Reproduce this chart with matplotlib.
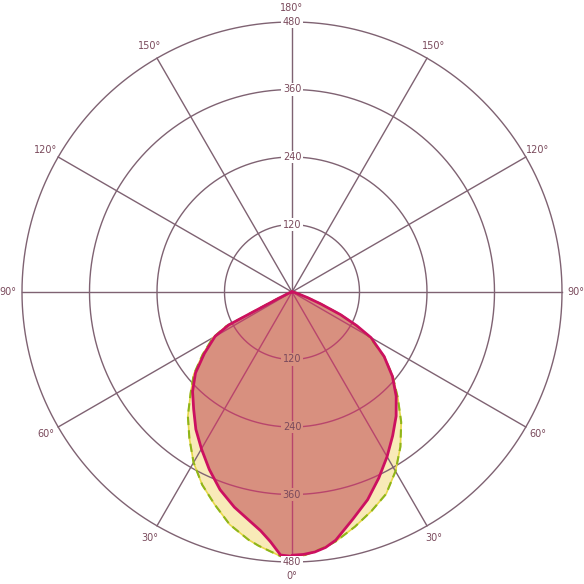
import numpy as np
import matplotlib
matplotlib.use('Agg')
import matplotlib.pyplot as plt

# Gamma angles (deg) and luminous intensity (cd/klm) for two C-planes
gamma = [0, 2.5, 5, 7.5, 10, 15, 20, 25, 30, 35, 40, 45, 50, 55, 60, 62.5, 65, 67.5, 70, 75, 80, 85, 90]
c180 = [470, 468, 445, 428, 416, 396, 374, 348, 322, 298, 272, 250, 224, 190, 158, 127, 25, 10, 6, 4, 2, 1, 0]
c0 = [468, 467, 464, 458, 448, 418, 393, 365, 338, 312, 288, 262, 233, 200, 162, 130, 95, 55, 30, 10, 5, 2, 0]
c270 = [471, 470, 462, 455, 447, 428, 402, 378, 350, 318, 288, 255, 228, 194, 162, 132, 30, 12, 7, 4, 2, 1, 0]
c90 = [470, 469, 463, 457, 450, 432, 414, 396, 368, 336, 302, 266, 234, 200, 158, 128, 95, 55, 30, 10, 5, 2, 0]

r_ticks = [120, 240, 360, 480]
ang_ticks = [0, 30, 60, 90, 120, 150, 180, 210, 240, 270, 300, 330]
ang_labels = ['0°', '30°', '60°', '90°', '120°', '150°', '180°', '150°', '120°', '90°', '60°', '30°']

grid_col = '#7f6272'
inner_grid_col = '#b8456c'
text_col = '#7a4a5c'
red_fill = '#d8907f'
red_line = '#cc1060'
yel_fill = '#f8eab8'
yel_line = '#e6d84a'
green_dash = '#8fb51a'

fig = plt.figure(figsize=(5.84, 5.84), dpi=100)
ax = fig.add_axes([22/584, 22/584, 540/584, 540/584], projection='polar')
ax.set_theta_zero_location('S')
ax.set_theta_direction(1)
ax.set_ylim(0, max(r_ticks))
ax.grid(False)
ax.set_xticks([])
ax.set_yticks([])
ax.spines['polar'].set_visible(False)

g = np.radians(np.array(gamma, dtype=float))

def closed(left, right):
    th = np.concatenate([-g[::-1], g])
    r = np.concatenate([np.array(left, float)[::-1], np.array(right, float)])
    return th, r

th_y, r_y = closed(c270, c90)
th_r, r_r = closed(c180, c0)

# fills
yf = ax.fill(th_y, r_y, color=yel_fill, zorder=1, lw=0)[0]
rf = ax.fill(th_r, r_r, color=red_fill, zorder=3, lw=0)[0]

# grid
circ_t = np.linspace(0, 2*np.pi, 721)
def draw_grid(color, z, clip=None):
    arts = []
    for rv in r_ticks:
        arts += ax.plot(circ_t, np.full_like(circ_t, rv), color=color, lw=1.0, zorder=z)
    for a in ang_ticks:
        arts += ax.plot([0, np.radians(a)], [0, max(r_ticks)], color=color, lw=1.0, zorder=z)
    for a_ in arts:
        if clip is not None:
            a_.set_clip_path(clip)
        else:
            a_.set_clip_on(False)
    return arts

draw_grid(grid_col, 2)
draw_grid(inner_grid_col, 4, clip=rf)

# outlines
ax.plot(th_y, r_y, color=yel_line, lw=1.2, zorder=5)
ax.plot(th_y, r_y, color=green_dash, lw=1.5, ls=(0, (4, 2.5)), zorder=6)
ax.plot(th_r, r_r, color=red_line, lw=2.0, zorder=7)

# angle labels
for a, lab in zip(ang_ticks, ang_labels):
    ax.text(np.radians(a), 505, lab, ha='center', va='center', fontsize=7,
            color=text_col, clip_on=False, zorder=10)

# radial labels at top and bottom
for rv in r_ticks:
    ax.text(np.pi, rv, str(rv), ha='center', va='center', fontsize=7, color=text_col,
            zorder=10, clip_on=False,
            bbox=dict(boxstyle='square,pad=0.15', fc='white', ec='none'))
    inside = rv < r_r[len(gamma)]
    ax.text(0, rv, str(rv), ha='center', va='center', fontsize=7, color=text_col,
            zorder=10, clip_on=False,
            bbox=dict(boxstyle='square,pad=0.15', fc=red_fill if inside else 'white', ec='none'))

fig.savefig('out.png', dpi=100, facecolor='white')
